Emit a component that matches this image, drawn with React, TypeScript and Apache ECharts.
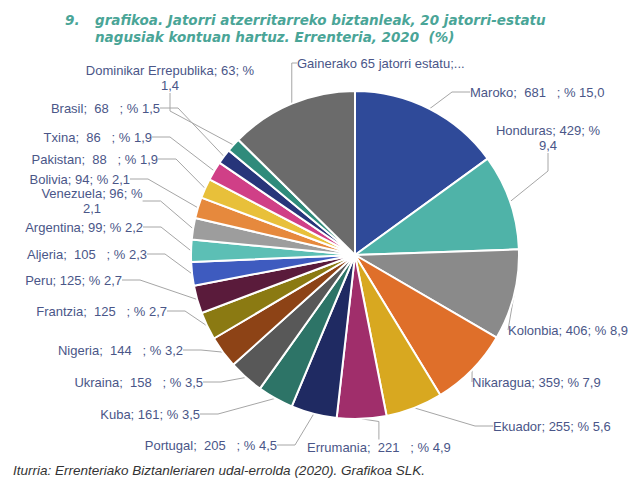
import React, { useEffect, useRef } from "react";
import * as echarts from "echarts";

const countries = [
  "Maroko", "Honduras", "Kolonbia", "Nikaragua", "Ekuador", "Errumania", "Portugal",
  "Kuba", "Ukraina", "Nigeria", "Frantzia", "Peru", "Aljeria", "Argentina",
  "Venezuela", "Bolivia", "Pakistan", "Txina", "Brasil", "Dominikar Errepublika",
  "Gainerako 65 jatorri estatu",
];
const population = [681, 429, 406, 359, 255, 221, 205, 161, 158, 144, 125, 125, 105, 99, 96, 94, 88, 86, 68, 63, 572];
const labelTexts = [
  "Maroko;  681   ; % 15,0",
  "Honduras; 429; %\n9,4",
  "Kolonbia; 406; % 8,9",
  "Nikaragua; 359; % 7,9",
  "Ekuador; 255; % 5,6",
  "Errumania;  221   ; % 4,9",
  "Portugal;  205   ; % 4,5",
  "Kuba; 161; % 3,5",
  "Ukraina;  158   ; % 3,5",
  "Nigeria;  144   ; % 3,2",
  "Frantzia;  125   ; % 2,7",
  "Peru; 125; % 2,7",
  "Aljeria;  105   ; % 2,3",
  "Argentina; 99; % 2,2",
  "Venezuela; 96; %\n2,1",
  "Bolivia; 94; % 2,1",
  "Pakistan;  88   ; % 1,9",
  "Txina;  86   ; % 1,9",
  "Brasil;  68   ; % 1,5",
  "Dominikar Errepublika; 63; %\n1,4",
  "Gainerako 65 jatorri estatu;...",
];
const colors = [
  "#2f4a99", "#4fb3a8", "#8a8a8a", "#df6f2a", "#d8a820", "#a02e6b", "#1f2a62",
  "#2d7467", "#585858", "#8d4316", "#8b7a12", "#5a1b3b", "#3e5bbf", "#5cbfb5",
  "#9d9d9d", "#e6893d", "#e8c03a", "#d03f87", "#27357a", "#2f8b7b", "#6b6b6b",
];
// label placement: [x, y, align] (x = edge nearest the pie, y = vertical middle)
const labelPlacement: [number, number, string][] = [
  [470, 92, "left"],
  [548, 138, "center"],
  [508, 330, "left"],
  [472, 382, "left"],
  [493, 426, "left"],
  [307, 447, "left"],
  [277, 445, "right"],
  [200, 414, "right"],
  [203, 382, "right"],
  [183, 350, "right"],
  [167, 311, "right"],
  [122, 280, "right"],
  [147, 254, "right"],
  [143, 227, "right"],
  [92, 201, "center"],
  [130, 179, "right"],
  [158, 159, "right"],
  [152, 137, "right"],
  [160, 108, "right"],
  [170, 78, "center"],
  [297, 63, "left"],
];
const titleNumber = "9.";
const titleLine1 = "grafikoa. Jatorri atzerritarreko biztanleak, 20 jatorri-estatu";
const titleLine2 = "nagusiak kontuan hartuz. Errenteria, 2020  (%)";
const sourceText = "Iturria: Errenteriako Biztanleriaren udal-errolda (2020). Grafikoa SLK.";

export default function App() {
  const ref = useRef<HTMLDivElement>(null);
  useEffect(() => {
    document.body.style.margin = "0";
    const chart = echarts.init(ref.current!, null, { renderer: "svg" });
    const titleStyle = {
      fill: "#4aa597",
      font: "italic bold 13.5px 'DejaVu Sans', sans-serif",
      verticalAlign: "middle",
    };
    chart.setOption({
      animation: false,
      backgroundColor: "#ffffff",
      graphic: [
        { type: "text", x: 65, y: 20, style: { text: titleNumber, ...titleStyle } },
        { type: "text", x: 95, y: 20, style: { text: titleLine1, ...titleStyle } },
        { type: "text", x: 95, y: 37, style: { text: titleLine2, ...titleStyle } },
        {
          type: "text", x: 13, y: 470,
          style: {
            text: sourceText, fill: "#333333", verticalAlign: "middle",
            font: "italic 13.5px 'Liberation Sans', Arial, sans-serif",
          },
        },
      ],
      series: [
        {
          type: "pie",
          center: [355, 255],
          radius: [0, 164],
          startAngle: 90,
          clockwise: true,
          minShowLabelAngle: 0,
          itemStyle: { borderColor: "#ffffff", borderWidth: 2 },
          label: {
            show: true,
            color: "#4a5688",
            fontFamily: "'Liberation Sans', Arial, sans-serif",
            fontSize: 13,
            lineHeight: 15,
            overflow: "none",
            formatter: (p: any) => labelTexts[p.dataIndex],
          },
          labelLine: {
            show: true,
            length: 12,
            length2: 18,
            lineStyle: { color: "#a6a6a6", width: 1 },
          },
          labelLayout: (p: any) => {
            const pl = labelPlacement[p.dataIndex];
            return { x: pl[0], y: pl[1], align: pl[2], verticalAlign: "middle" };
          },
          data: countries.map((c, i) => ({
            name: c,
            value: population[i],
            itemStyle: { color: colors[i] },
          })),
        },
      ],
    });
    return () => chart.dispose();
  }, []);
  return <div ref={ref} style={{ width: 633, height: 482 }} />;
}
